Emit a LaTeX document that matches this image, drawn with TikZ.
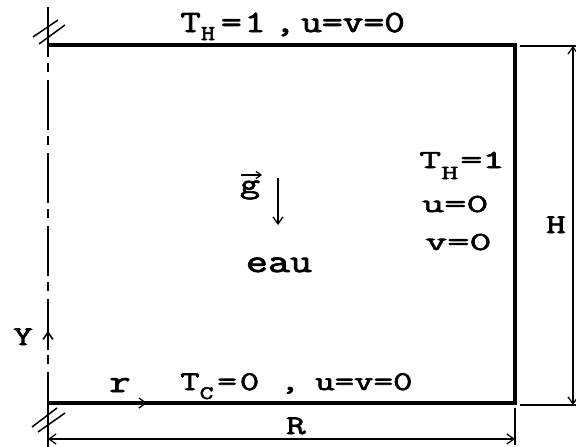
\documentclass[tikz,border=0pt]{standalone}
\usepackage{fontspec}
\newfontfamily\fA[FakeStretch=1.3,FakeBold=2.5]{Latin Modern Mono}
\newfontfamily\fB[FakeStretch=1.4,FakeBold=2.5]{Latin Modern Mono}
\newfontfamily\fC[FakeStretch=1.65,FakeBold=2.5]{Latin Modern Mono}
\usetikzlibrary{arrows.meta}
\newcommand\lsub[3]{\raisebox{#2}{\fontsize{#1}{#1}\selectfont #3}}
\begin{document}
\begin{tikzpicture}[x=1pt,y=-1pt,
  big/.style={font=\fA\fontsize{31}{31}\selectfont, inner sep=0pt},
  txt/.style={font=\fB\fontsize{27}{27}\selectfont, inner sep=0pt},
  side/.style={font=\fC\fontsize{26}{26}\selectfont, inner sep=0pt},
  wall/.style={line width=3.4pt, line join=miter},
  axisline/.style={line width=1.6pt, dash pattern=on 50pt off 6pt on 9pt off 8pt},
  hatch/.style={line width=1.5pt},
  dimline/.style={line width=1.3pt},
  >={Straight Barb[length=7pt,width=10pt]}]
\useasboundingbox (0,0) rectangle (576,447);
\fill[white] (0,0) rectangle (576,447);
% box
\coordinate (TL) at (48,45);
\coordinate (TR) at (515,45);
\coordinate (BR) at (515,403);
\coordinate (BL) at (48,403);
\draw[wall] (TL) -- (TR) -- (BR) -- (BL);
% axis
\coordinate (axT) at (48,7);
\coordinate (axS) at (48,372);
\coordinate (axB) at (48,447);
\draw[axisline] (axT) -- (axB);
\draw[line width=1.6pt] (axS) -- (axB);
\coordinate (y0) at (48,350);
\coordinate (y1) at (48,331);
\draw[line width=1.6pt,->] (y0) -- (y1);
% hatches
\coordinate (h1a) at (33,37); \coordinate (h1b) at (58,20);
\coordinate (h2a) at (39,44); \coordinate (h2b) at (65,25);
\coordinate (h3a) at (32,427); \coordinate (h3b) at (57,408);
\coordinate (h4a) at (38,432); \coordinate (h4b) at (65,413);
\draw[hatch] (h1a) -- (h1b);
\draw[hatch] (h2a) -- (h2b);
\draw[hatch] (h3a) -- (h3b);
\draw[hatch] (h4a) -- (h4b);
% r arrow
\coordinate (r0) at (120,403);
\coordinate (r1) at (147,403);
\draw[dimline,->] (r0) -- (r1);
% R dimension
\coordinate (R0) at (48,439);
\coordinate (R1) at (515,439);
\draw[dimline,<->] (R0) -- (R1);
\coordinate (e1) at (515,408);
\coordinate (e2) at (515,445);
\draw[dimline] (e1) -- (e2);
% H dimension
\coordinate (H0) at (573,46);
\coordinate (H1) at (573,405);
\draw[dimline,<->] (H0) -- (H1);
\coordinate (e3) at (520,46);
\coordinate (e4) at (576,46);
\coordinate (e5) at (520,405);
\coordinate (e6) at (576,405);
\draw[dimline] (e3) -- (e4);
\draw[dimline] (e5) -- (e6);
% gravity
\node[txt,anchor=base,font=\fB\fontsize{28}{28}\selectfont] (g) at (250,193) {g};
\coordinate (gv0) at (241,175);
\coordinate (gv1) at (262,175);
\draw[line width=1.2pt,->,>={Straight Barb[length=5pt,width=7pt]}] (gv0) -- (gv1);
\coordinate (ga0) at (278,178);
\coordinate (ga1) at (278,225);
\draw[line width=1.3pt,->] (ga0) -- (ga1);
\node[big,anchor=base,font=\fA\fontsize{33}{33}\selectfont] (eau) at (279,272) {eau};
% texts
\node[big,anchor=base west] (top1) at (180,32) {T\lsub{21}{-8pt}{H}\kern6pt=\kern3pt1};
\node[big,anchor=base] (top2) at (285,32) {,};
\node[big,anchor=base west] (top3) at (301,32) {u=v=0};
\node[txt,anchor=base west] (bot1) at (180,390) {T\lsub{19}{-9pt}{C}\kern4pt=\kern3pt0};
\node[txt,anchor=base] (bot2) at (290,390) {,};
\node[txt,anchor=base west] (bot3) at (315,390) {u=v=0};
\node[side,anchor=base west] (rt1) at (419,168) {T\lsub{20}{-11pt}{H}\kern2pt=1};
\node[side,anchor=base west] (rt2) at (422,212) {u=0};
\node[side,anchor=base west] (rt3) at (425,250) {v=0};
\node[txt,anchor=base] (Hl) at (556,233) {H};
\node[txt,anchor=base] (Rl) at (296,434) {R};
\node[big,anchor=base,font=\fA\fontsize{32}{32}\selectfont] (rl) at (120,392) {r};
\node[txt,anchor=base] (Yl) at (23,345) {Y};
\end{tikzpicture}
\end{document}
